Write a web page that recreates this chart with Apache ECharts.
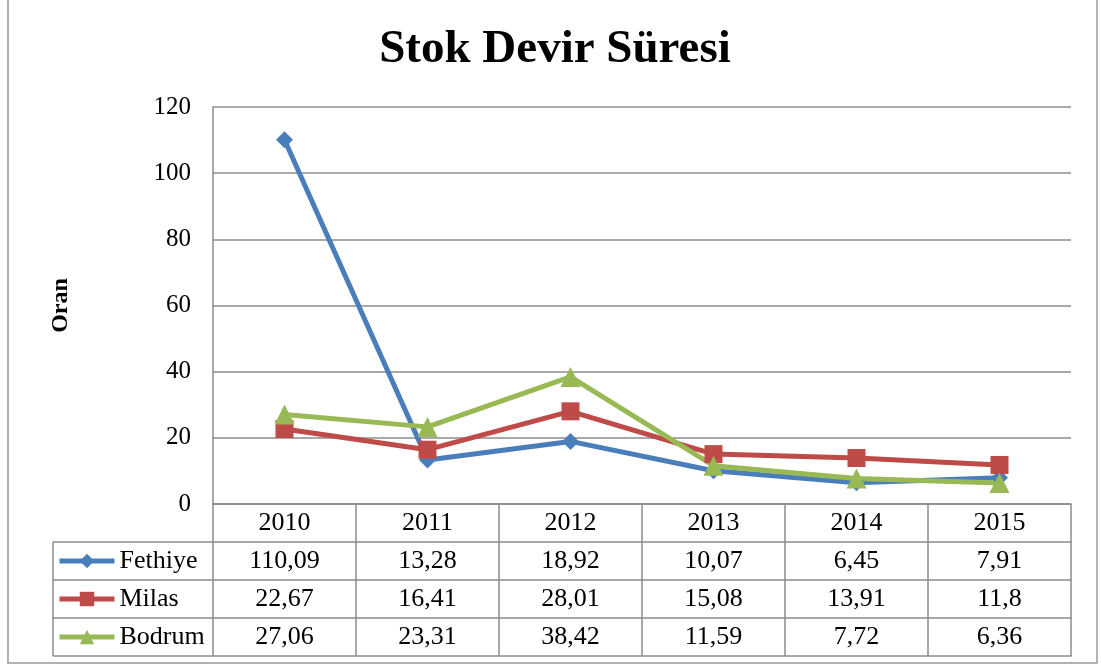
<!DOCTYPE html>
<html>
<head>
<meta charset="utf-8">
<script src="https://cdn.jsdelivr.net/npm/echarts@6/dist/echarts.min.js"></script>
<style>
  html, body { margin: 0; padding: 0; background: #fff; }
  #chart { width: 1101px; height: 672px; }
</style>
</head>
<body>
<div id="chart"></div>
<script>
// data
var years = ['2010', '2011', '2012', '2013', '2014', '2015']
var fethiye = [110.09, 13.28, 18.92, 10.07, 6.45, 7.91]
var milas = [22.67, 16.41, 28.01, 15.08, 13.91, 11.8]
var bodrum = [27.06, 23.31, 38.42, 11.59, 7.72, 6.36]
var yTicks = [0, 20, 40, 60, 80, 100, 120]

var FONT = '"Liberation Serif", "Times New Roman", serif'
var GRID_COLOR = '#8c8c8c'
var ROW_H = 38
var plotLeft = 213, plotRight = 1071, plotBottom = 504
var legendLeft = 53

function fmt(v) {
  return String(v).replace('.', ',')
}

// one category axis per table row, stacked under the plot
function rowAxis(offset, values, showLabel) {
  return {
    type: 'category',
    data: years,
    position: 'bottom',
    offset: offset,
    boundaryGap: true,
    axisLine: { show: true, lineStyle: { color: GRID_COLOR, width: 1.5 } },
    axisTick: { show: showLabel, length: ROW_H, lineStyle: { color: GRID_COLOR, width: 1.5 } },
    axisLabel: {
      show: showLabel,
      margin: 6,
      fontFamily: FONT,
      fontSize: 26,
      lineHeight: 26,
      color: '#000',
      formatter: function (v, i) { return values ? fmt(values[i]) : v }
    }
  }
}

var chart = echarts.init(document.getElementById('chart'))

var tableLines = []
for (var r = 1; r <= 4; r++) {
  tableLines.push({
    type: 'line',
    shape: { x1: legendLeft, y1: plotBottom + r * ROW_H, x2: plotLeft, y2: plotBottom + r * ROW_H },
    style: { stroke: GRID_COLOR, lineWidth: 1.5 }
  })
}
tableLines.push({
  type: 'line',
  shape: { x1: legendLeft, y1: plotBottom + ROW_H, x2: legendLeft, y2: plotBottom + 4 * ROW_H },
  style: { stroke: GRID_COLOR, lineWidth: 1.5 }
})
tableLines.push({
  type: 'rect',
  shape: { x: 8, y: -2, width: 1089, height: 665 },
  style: { fill: null, stroke: '#999', lineWidth: 1.5 }
})

chart.setOption({
  backgroundColor: '#fff',
  animation: false,
  title: {
    text: 'Stok Devir Süresi',
    left: 550,
    textAlign: 'center',
    top: 21,
    textStyle: { fontFamily: FONT, fontSize: 47, fontWeight: 'bold', color: '#000' }
  },
  legend: {
    orient: 'vertical',
    left: 57,
    top: 548,
    padding: 0,
    itemGap: 12,
    itemWidth: 55,
    itemHeight: 18,
    lineStyle: { width: 5 },
    textStyle: { fontFamily: FONT, fontSize: 26, color: '#000', lineHeight: 26 },
    data: ['Fethiye', 'Milas', 'Bodrum']
  },
  grid: { left: plotLeft, right: 1101 - plotRight, top: 107, bottom: 672 - plotBottom },
  xAxis: [
    rowAxis(0, null, true),
    rowAxis(ROW_H, fethiye, true),
    rowAxis(ROW_H * 2, milas, true),
    rowAxis(ROW_H * 3, bodrum, true),
    rowAxis(ROW_H * 4, null, false)
  ],
  yAxis: {
    type: 'value',
    min: yTicks[0],
    max: yTicks[yTicks.length - 1],
    interval: 20,
    name: 'Oran',
    nameLocation: 'middle',
    nameGap: 140,
    nameTextStyle: { fontFamily: FONT, fontSize: 24, fontWeight: 'bold', color: '#000' },
    axisLine: { show: true, lineStyle: { color: GRID_COLOR, width: 1.5 } },
    axisTick: { show: false },
    axisLabel: { margin: 22, fontFamily: FONT, fontSize: 25, color: '#000' },
    splitLine: { lineStyle: { color: GRID_COLOR, width: 1.5 } }
  },
  series: [
    {
      name: 'Fethiye',
      type: 'line',
      data: fethiye,
      symbol: 'diamond',
      symbolSize: 17,
      color: '#4a7ebb',
      lineStyle: { width: 5 }
    },
    {
      name: 'Milas',
      type: 'line',
      data: milas,
      symbol: 'rect',
      symbolSize: 18,
      color: '#be4b48',
      lineStyle: { width: 5 }
    },
    {
      name: 'Bodrum',
      type: 'line',
      data: bodrum,
      symbol: 'triangle',
      symbolSize: 20,
      color: '#98b954',
      lineStyle: { width: 5 }
    }
  ],
  graphic: tableLines
})
</script>
</body>
</html>
